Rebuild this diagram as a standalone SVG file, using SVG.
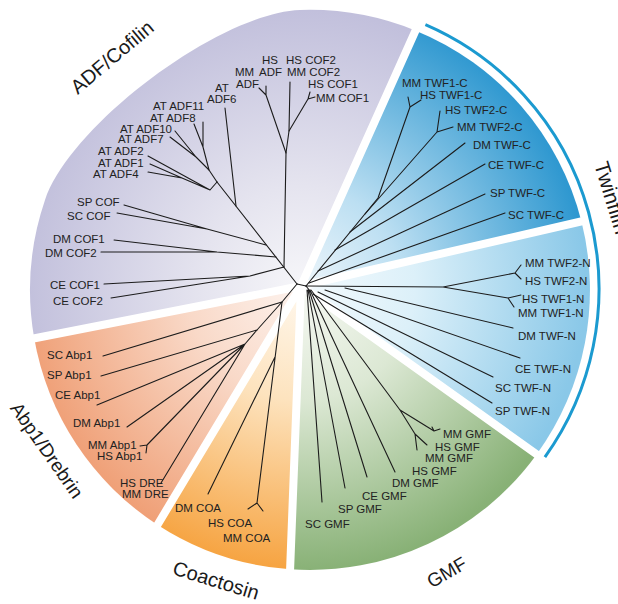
<svg xmlns="http://www.w3.org/2000/svg" width="618" height="604" viewBox="0 0 618 604">
<style>
.br{fill:none;stroke:#1c1c1c;stroke-width:1.1;stroke-linecap:round;stroke-linejoin:round}
.lb{font-family:"Liberation Sans",Arial,sans-serif;font-size:11.5px;fill:#222}
.gl{font-family:"Liberation Sans",Arial,sans-serif;font-size:20px;fill:#1a1a1a}
.sep{stroke:#fff;stroke-width:8;fill:none}
</style>
<defs>
<radialGradient id="gAdf" gradientUnits="userSpaceOnUse" cx="301" cy="286" r="285"><stop offset="0" stop-color="#f6f6f9"/><stop offset="0.35" stop-color="#e5e4ef"/><stop offset="1" stop-color="#c0bedb"/></radialGradient>
<radialGradient id="gTwc" gradientUnits="userSpaceOnUse" cx="301" cy="286" r="285"><stop offset="0" stop-color="#eef6fb"/><stop offset="0.35" stop-color="#bcdff2"/><stop offset="1" stop-color="#2f98d0"/></radialGradient>
<radialGradient id="gTwn" gradientUnits="userSpaceOnUse" cx="301" cy="286" r="285"><stop offset="0" stop-color="#f4fafd"/><stop offset="0.4" stop-color="#dcf0f9"/><stop offset="1" stop-color="#8ac8e8"/></radialGradient>
<radialGradient id="gGmf" gradientUnits="userSpaceOnUse" cx="301" cy="286" r="285"><stop offset="0" stop-color="#f7f9f4"/><stop offset="0.4" stop-color="#dce8d4"/><stop offset="1" stop-color="#88b176"/></radialGradient>
<radialGradient id="gCoa" gradientUnits="userSpaceOnUse" cx="301" cy="286" r="285"><stop offset="0" stop-color="#fff8ee"/><stop offset="0.4" stop-color="#fde3be"/><stop offset="1" stop-color="#f6a340"/></radialGradient>
<radialGradient id="gAbp" gradientUnits="userSpaceOnUse" cx="301" cy="286" r="285"><stop offset="0" stop-color="#fdf3ee"/><stop offset="0.4" stop-color="#f9d9c8"/><stop offset="1" stop-color="#ef9d73"/></radialGradient>
</defs>
<rect width="618" height="604" fill="#fff"/>
<g id="sectors">
<path id="sector-adf" d="M301,286 L34.2,338.3 A280,280 0 0 1 45,200 C70.7,124.3 220,12.9 300,10 A280,280 0 0 1 415.8,30.7 Z" fill="url(#gAdf)"/>
<path id="sector-twf-c" d="M301,286 L415.8,30.7 A280,280 0 0 1 581.4,221.3 Z" fill="url(#gTwc)"/>
<path id="sector-twf-n" d="M301,286 L581.4,221.3 A280,280 0 0 1 536.8,454.2 Z" fill="url(#gTwn)"/>
<path id="sector-gmf" d="M301,286 L536.8,454.2 A280,280 0 0 1 290,569.3 Z" fill="url(#gGmf)"/>
<path id="sector-coa" d="M301,286 L290,569.3 A280,280 0 0 1 157.3,524.7 Z" fill="url(#gCoa)"/>
<path id="sector-abp" d="M301,286 L157.3,524.7 A280,280 0 0 1 34.2,338.3 Z" fill="url(#gAbp)"/>
</g>
<g id="separators">
<path class="sep" d="M301,286 L427,5 M301,286 L609,215 M301,286 L560,471 M301,286 L289,598 M301,286 L143,549 M301,286 L8,343.5"/>
</g>
<path id="twinfilin-arc" d="M425.4,24.7 A288,288 0 0 1 544.9,457" fill="none" stroke="#1b9ad0" stroke-width="3"/>
<g id="connectors">
<path class="br" d="M297,284 L306,286"/>
<path class="br" d="M297,284 L217,182"/>
<path class="br" d="M284,267 L250,276 L104,284 M250,276 L111,298"/>
<path class="br" d="M284,267 L286,153 L289,131 L290,82"/>
<path class="br" d="M286,153 L266,95 L259,88 M266,95 L266,86"/>
<path class="br" d="M289,131 L308,99 L310,92 M308,99 L315,97"/>
<path class="br" d="M276,257 L217,252 L114,240 M217,252 L101,252"/>
<path class="br" d="M266,245 L207,229 L124,205 M207,229 L117,213"/>
<path class="br" d="M236,206 L225,108"/>
<path class="br" d="M217,182 L209,170 L203,147 L203,122 M203,147 L194,124"/>
<path class="br" d="M209,170 L196,157 L175,131 M196,157 L170,137"/>
<path class="br" d="M217,182 L210,190 L148,156 M210,190 L182,178 L150,164 M182,178 L148,172"/>
<path class="br" d="M297,284 L282,302 L103,356"/>
<path class="br" d="M282,302 L257,330 L101,376"/>
<path class="br" d="M257,330 L245,344 L97,405 M245,344 L127,427 M245,344 L147,445 L140,446 M147,445 L146,453 M245,344 L161,483"/>
<path class="br" d="M282,302 L257,503 L248,509 M257,503 L263,511 M275,357 L208,494"/>
<path class="br" d="M306,286 L378,198 L410,107 L408,97 M410,107 L421,100"/>
<path class="br" d="M365,214 L437,132 L440,111 M437,132 L453,127"/>
<path class="br" d="M350,232 L465,143 M335,250 L485,164 M318,271 L485,194 M309,283 L505,213"/>
<path class="br" d="M306,286 L443,287 L515,273 L521,265 M515,273 L521,279 M443,287 L508,298 L521,295 M508,298 L514,307"/>
<path class="br" d="M345,288 L513,328 M325,290 L520,358 M318,292 L493,377 M313,294 L492,403"/>
<path class="br" d="M306,286 L310,291 M307,290 L322,502 M308,290 L345,488 M309,290 L367,477 M310,290 L395,472"/>
<path class="br" d="M311,290 L400,410 L434,431 L432,427 M434,431 L440,429 M400,410 L415,434 L417,450 M415,434 L427,445"/>
</g>
<g id="clade-adf-cofilin">
<text class="gl" transform="translate(116.5,62.4) rotate(-40)" text-anchor="middle">ADF/Cofilin</text>
<text class="lb" x="262" y="63.5">HS</text>
<text class="lb" x="259" y="75.5">ADF</text>
<text class="lb" x="235" y="75.5">MM</text>
<text class="lb" x="236" y="88">ADF</text>
<text class="lb" x="215" y="92">AT</text>
<text class="lb" x="207" y="102.5">ADF6</text>
<text class="lb" x="286" y="63.5">HS COF2</text>
<text class="lb" x="287" y="75.5">MM COF2</text>
<text class="lb" x="308" y="88">HS COF1</text>
<text class="lb" x="316" y="102">MM COF1</text>
<text class="lb" x="153" y="110">AT ADF11</text>
<text class="lb" x="150" y="122">AT ADF8</text>
<text class="lb" x="120" y="132.5">AT ADF10</text>
<text class="lb" x="118" y="143">AT ADF7</text>
<text class="lb" x="98" y="155">AT ADF2</text>
<text class="lb" x="98" y="167">AT ADF1</text>
<text class="lb" x="93" y="178">AT ADF4</text>
<text class="lb" x="77" y="206">SP COF</text>
<text class="lb" x="67" y="220">SC COF</text>
<text class="lb" x="53" y="243">DM COF1</text>
<text class="lb" x="45" y="257">DM COF2</text>
<text class="lb" x="50" y="289">CE COF1</text>
<text class="lb" x="53" y="305">CE COF2</text>
</g>
<g id="clade-twinfilin">
<text class="gl" transform="translate(605,200) rotate(73)" text-anchor="middle" style="font-size:21px">Twinfilin</text>
<text class="lb" x="402" y="87">MM TWF1-C</text>
<text class="lb" x="420" y="99">HS TWF1-C</text>
<text class="lb" x="445" y="114">HS TWF2-C</text>
<text class="lb" x="457" y="131">MM TWF2-C</text>
<text class="lb" x="473" y="149">DM TWF-C</text>
<text class="lb" x="488" y="169">CE TWF-C</text>
<text class="lb" x="490" y="197">SP TWF-C</text>
<text class="lb" x="508" y="219">SC TWF-C</text>
<text class="lb" x="525" y="267">MM TWF2-N</text>
<text class="lb" x="525" y="285">HS TWF2-N</text>
<text class="lb" x="522" y="303">HS TWF1-N</text>
<text class="lb" x="518" y="317">MM TWF1-N</text>
<text class="lb" x="518" y="340">DM TWF-N</text>
<text class="lb" x="515" y="373">CE TWF-N</text>
<text class="lb" x="495" y="392">SC TWF-N</text>
<text class="lb" x="495" y="415">SP TWF-N</text>
</g>
<g id="clade-gmf">
<text class="gl" transform="translate(450,578) rotate(-30)" text-anchor="middle" style="font-size:19px">GMF</text>
<text class="lb" x="443" y="438">MM GMF</text>
<text class="lb" x="435" y="450.5">HS GMF</text>
<text class="lb" x="425" y="462">MM GMF</text>
<text class="lb" x="412" y="475">HS GMF</text>
<text class="lb" x="392" y="487">DM GMF</text>
<text class="lb" x="362" y="500">CE GMF</text>
<text class="lb" x="338" y="513">SP GMF</text>
<text class="lb" x="305" y="528">SC GMF</text>
</g>
<g id="clade-coactosin">
<text class="gl" transform="translate(214,587) rotate(17)" text-anchor="middle">Coactosin</text>
<text class="lb" x="175" y="512">DM COA</text>
<text class="lb" x="208" y="527">HS COA</text>
<text class="lb" x="223" y="542">MM COA</text>
</g>
<g id="clade-abp1-drebrin">
<text class="gl" transform="translate(41.5,454) rotate(55)" text-anchor="middle" style="font-size:19px">Abp1/Drebrin</text>
<text class="lb" x="47" y="358.5">SC Abp1</text>
<text class="lb" x="47" y="378.5">SP Abp1</text>
<text class="lb" x="55" y="398.5">CE Abp1</text>
<text class="lb" x="73" y="426.5">DM Abp1</text>
<text class="lb" x="88" y="448.5">MM Abp1</text>
<text class="lb" x="97" y="460">HS Abp1</text>
<text class="lb" x="120" y="487">HS DRE</text>
<text class="lb" x="122" y="498">MM DRE</text>
</g>
</svg>
